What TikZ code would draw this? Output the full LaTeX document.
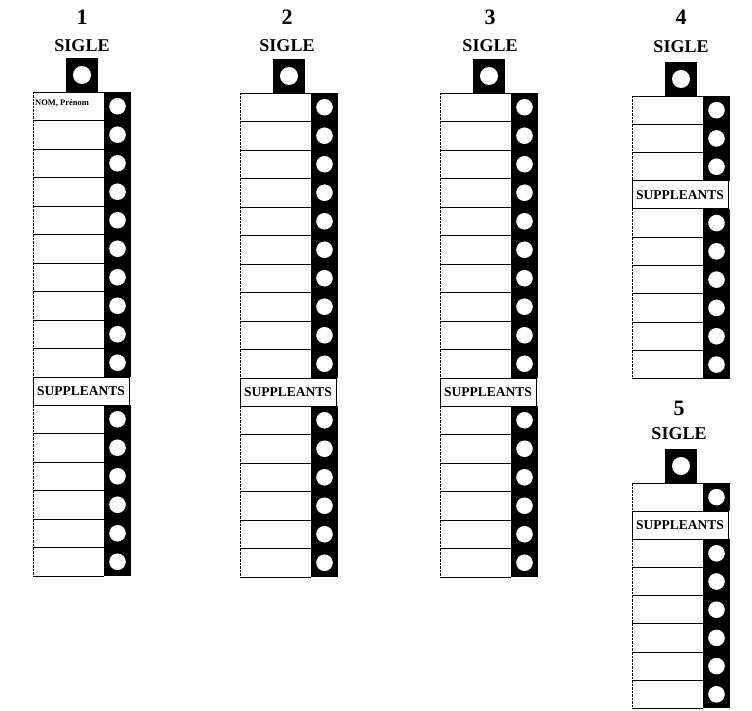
\documentclass[tikz,border=0pt]{standalone}
\usepackage{fontspec}
\setmainfont{Liberation Serif}
\tikzset{
  rowline/.style={line width=0.9pt},
  leftedge/.style={line width=0.9pt, dash pattern=on 2.5pt off 1pt},
  hole/.style={fill=white},
  supp/.style={font=\fontsize{13.5}{13.5}\selectfont\bfseries, inner sep=0pt},
  siglelabel/.style={font=\fontsize{18}{18}\selectfont\bfseries, inner sep=0pt},
  numlabel/.style={font=\fontsize{22}{22}\selectfont\bfseries, inner sep=0pt},
  namelabel/.style={font=\fontsize{8.5}{8.5}\selectfont\bfseries, inner sep=0pt, anchor=west},
}
% #1 left x, #2 top y, #3 row height
\newcommand\ballotrow[3]{%
  \fill[black] ({#1+71},{#2}) rectangle ({#1+98},{#2+#3});
  \fill[white] ({#1},{#2}) rectangle ({#1+71},{#2+#3});
  \draw[rowline] ({#1+71},{#2}) -- ({#1},{#2});
  \draw[rowline] ({#1},{#2+#3}) -- ({#1+71},{#2+#3});
  \draw[leftedge] ({#1},{#2}) -- ({#1},{#2+#3});
  \fill[hole] ({#1+84.5},{#2+#3/2}) circle (8.3);
}
% #1 left x, #2 top y, #3 rows before SUPPLEANTS, #4 row height
\newcommand\ballotcol[4]{%
  \fill[black] ({#1+33},{#2-34}) rectangle ({#1+65},{#2});
  \fill[hole] ({#1+49},{#2-17}) circle (9);
  \foreach \i in {1,...,#3}{%
    \pgfmathsetmacro\rowy{#2+(\i-1)*#4}%
    \ballotrow{#1}{\rowy}{#4}}
  \pgfmathsetmacro\suppy{#2+#3*#4}%
  \draw[rowline, fill=white] ({#1},{\suppy}) rectangle ({#1+96},{\suppy+28});
  \node[supp] at ({#1+48},{\suppy+14}) {SUPPLEANTS};
  \foreach \i in {1,...,6}{%
    \pgfmathsetmacro\rowy{#2+#3*#4+28+(\i-1)*#4}%
    \ballotrow{#1}{\rowy}{#4}}
}
\begin{document}
\begin{tikzpicture}[x=1pt,y=-1pt]
\useasboundingbox (0,0) rectangle (752,711);
% column 1
\node[numlabel] (n1) at (82,17) {1};
\node[siglelabel] (s1) at (82,46) {SIGLE};
\ballotcol{33}{92}{10}{28.5}
\node[namelabel] (nom) at (35,103) {NOM, Prénom};
% column 2
\node[numlabel] (n2) at (287,17) {2};
\node[siglelabel] (s2) at (287,46) {SIGLE};
\ballotcol{240}{93}{10}{28.5}
% column 3
\node[numlabel] (n3) at (490,17) {3};
\node[siglelabel] (s3) at (490,46) {SIGLE};
\ballotcol{440}{93}{10}{28.5}
% column 4
\node[numlabel] (n4) at (681,17) {4};
\node[siglelabel] (s4) at (681,47) {SIGLE};
\ballotcol{632}{96}{3}{28.3}
% column 5
\node[numlabel] (n5) at (679,408) {5};
\node[siglelabel] (s5) at (679,434) {SIGLE};
\ballotcol{632}{483}{1}{28.2}
\end{tikzpicture}
\end{document}
